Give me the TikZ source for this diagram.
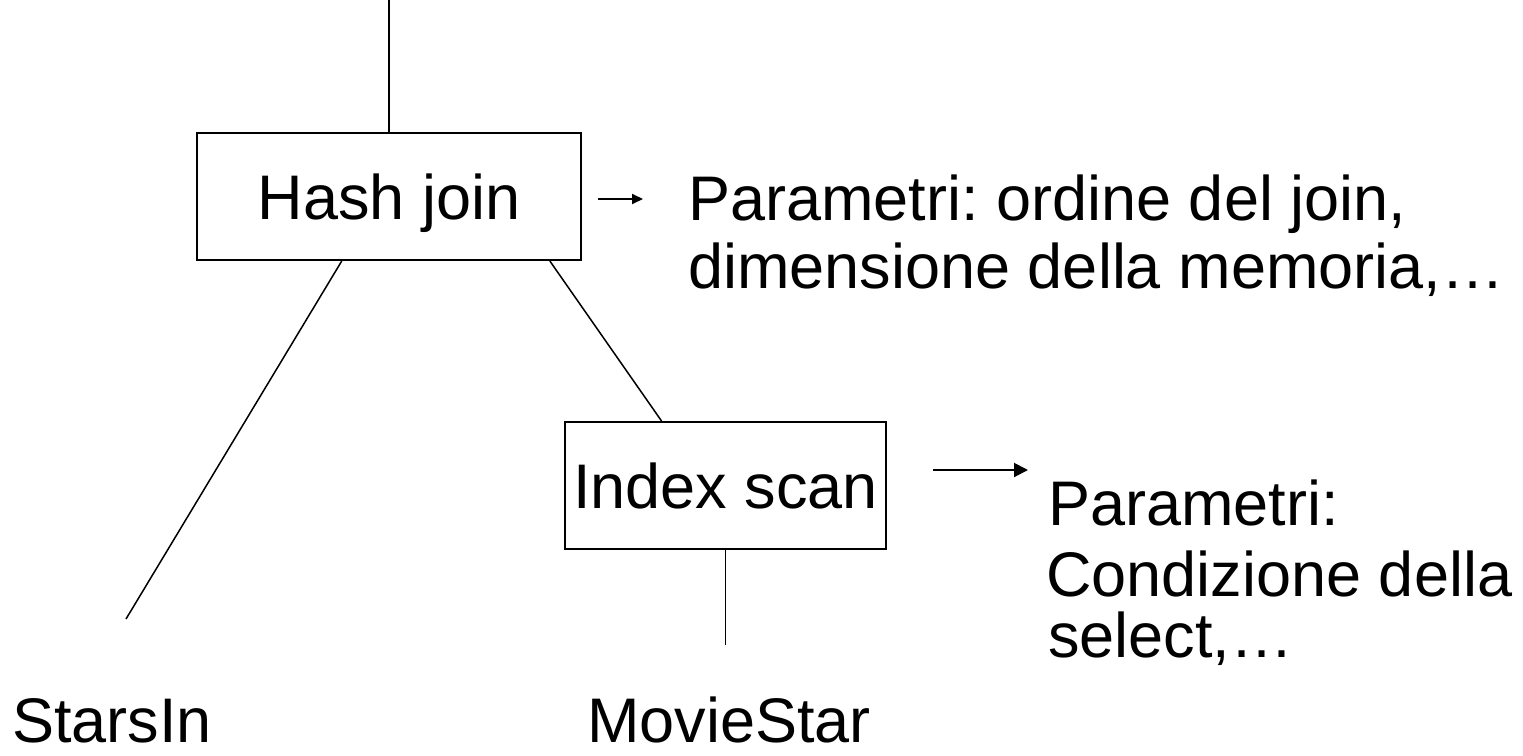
\documentclass[tikz,border=0pt]{standalone}
\usepackage{fontspec}
\setmainfont{Liberation Sans}
\usetikzlibrary{arrows.meta,calc}
\frenchspacing
\begin{document}
\begin{tikzpicture}[x=0.5pt,y=-0.5pt,
  opbox/.style={draw,line width=1pt,inner sep=0pt,minimum height=63.5pt,
    text height=22.6pt,text depth=0pt,font=\fontsize{31.5}{34}\selectfont},
  lbl/.style={inner sep=0pt,anchor=base west,font=\fontsize{31.5}{34}\selectfont},
  edge/.style={line width=0.75pt},
  parr/.style={line width=1pt,-{Triangle[length=7pt,width=7pt]}},
  parrs/.style={line width=1pt,-{Triangle[length=5.5pt,width=5pt]}}]
\useasboundingbox (0,0) rectangle (1523,756);
% operator boxes
\node[opbox,minimum width=192pt] (hj) at (389,196.5) {Hash join};
\node[opbox,minimum width=160.5pt] (is) at (725.5,485.5) {Index scan};
% leaves
\node[lbl] (stars) at (12,742) {StarsIn};
\node[lbl] (movie) at (587,742) {MovieStar};
% parameter texts
\node[lbl] (p1a) at (688,220) {Parametri: ordine del join,};
\node[lbl] (p1b) at (688,288) {dimensione della memoria,\dots};
\node[lbl] (p2a) at (1048,525) {Parametri:};
\node[lbl] (p2b) at (1046,596) {Condizione della};
\node[lbl] (p2c) at (1048,657) {select,\dots};
% free ends
\coordinate (top) at (389,0);
\coordinate (sEnd) at (126,619);
\coordinate (mEnd) at (725.5,645);
\coordinate (a1s) at (598,199);
\coordinate (a1e) at (643,199);
\coordinate (a2s) at (933,470);
\coordinate (a2e) at (1028,470);
% connectors
\draw[edge] (top) -- (hj.north);
\draw[edge] ($(hj.south west)!0.3776!(hj.south east)$) -- (sEnd);
\draw[edge] ($(hj.south west)!0.9167!(hj.south east)$) -- ($(is.north west)!0.302!(is.north east)$);
\draw[edge] (is.south) -- (mEnd);
\draw[parrs] (a1s) -- (a1e);
\draw[parr] (a2s) -- (a2e);
\end{tikzpicture}
\end{document}
